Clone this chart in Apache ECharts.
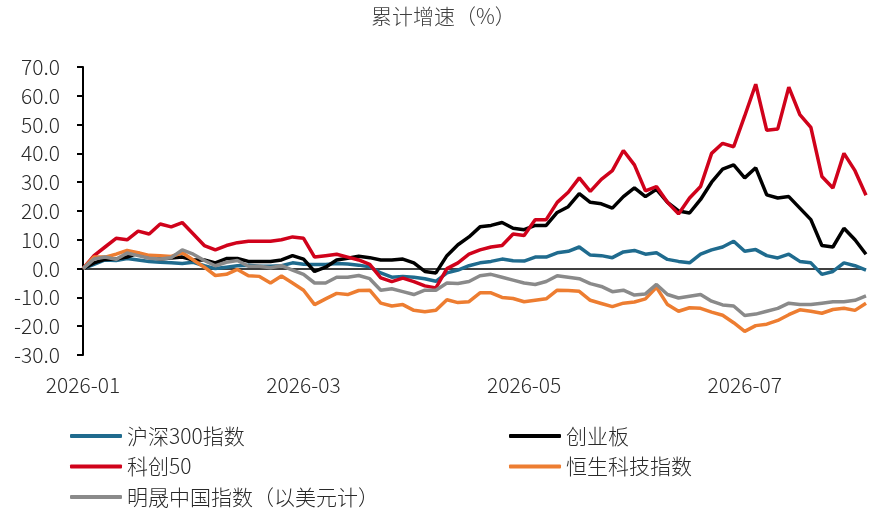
<!DOCTYPE html>
<html>
<head>
<meta charset="utf-8">
<script src="https://cdn.jsdelivr.net/npm/echarts@6/dist/echarts.min.js"></script>
<style>
html,body{margin:0;padding:0;background:#fff;}
#chart{width:881px;height:510px;}
</style>
</head>
<body>
<div id="chart"></div>
<script>
var dates = [
'2026-01-02','2026-01-05','2026-01-08','2026-01-11','2026-01-14','2026-01-17','2026-01-20','2026-01-23','2026-01-26','2026-01-29',
'2026-02-01','2026-02-04','2026-02-07','2026-02-10','2026-02-13','2026-02-16','2026-02-19','2026-02-22','2026-02-25','2026-02-27',
'2026-03-02','2026-03-05','2026-03-08','2026-03-11','2026-03-14','2026-03-17','2026-03-20','2026-03-23','2026-03-26','2026-03-29',
'2026-04-01','2026-04-04','2026-04-07','2026-04-10','2026-04-13','2026-04-16','2026-04-19','2026-04-22','2026-04-25','2026-04-28',
'2026-05-01','2026-05-04','2026-05-07','2026-05-10','2026-05-13','2026-05-16','2026-05-19','2026-05-22','2026-05-25','2026-05-28',
'2026-06-01','2026-06-04','2026-06-07','2026-06-10','2026-06-13','2026-06-16','2026-06-19','2026-06-22','2026-06-25','2026-06-28',
'2026-07-01','2026-07-04','2026-07-07','2026-07-10','2026-07-13','2026-07-16','2026-07-19','2026-07-22','2026-07-25','2026-07-28',
'2026-07-31','2026-08-03'
];
var tickMonths = ['2026-01','2026-03','2026-05','2026-07'];
var yTicks = [-30, -20, -10, 0, 10, 20, 30, 40, 50, 60, 70];

var hs300 = [0,1.5,3,2.8,3.5,3,2.5,2.2,2,1.8,
 2.2,1,0,0.5,1,1.2,0.8,0.8,1,2,
 1.5,1.4,1.4,1.8,1.6,1.2,0.6,-1.5,-3,-2.7,
 -3,-3.5,-4.4,-1.5,-0.5,1,2,2.5,3.3,2.7,
 2.6,4,4,5.5,6,7.5,4.7,4.5,3.8,5.8,
 6.3,5,5.5,3.2,2.5,2,5,6.5,7.5,9.5,
 6,6.6,4.5,3.7,5,2.5,2,-2,-1,2,
 1,-0.5];
var cyb = [0,2,3.2,3.3,4,5.4,4,3.3,3.7,4,
 3,3,2,3.5,3.5,2.5,2.5,2.5,3,4.5,
 3.3,-1,0.5,3,3.6,4.3,3.8,3,3,3.3,
 2,-1,-1.5,4.5,8.3,11,14.5,15,16,14,
 13.5,15,15,19.5,21.5,26,23,22.5,21,25,
 28,25,27.5,23,20,19.3,24,30,34.5,36,
 31.5,35,25.6,24.5,25,21,17,8,7.5,14,
 10,5];
var kc50 = [0,4.5,7.5,10.5,10,13,12,15.5,14.5,16,
 12,8,6.5,8,9,9.5,9.5,9.5,10,11,
 10.5,4,4.5,5,4,3,1.5,-3.2,-4.5,-3.3,
 -4.5,-6,-6.7,0,2,5,6.5,7.5,8,12,
 11.5,17,17,23,26.5,31.5,26.8,31,34,41,
 36,27,28.5,23,19,24.5,28.5,40,43.5,42.3,
 53,64,48,48.5,63,53.5,49,32,28,40,
 34,25.5];
var hstech = [0,4,4,5,6.3,5.5,4.6,4.5,4.2,5.5,
 3,0.5,-2.4,-2,-0.3,-2.5,-2.7,-5,-2.6,-5,
 -7.5,-12.5,-10.5,-8.6,-9,-7.6,-7.5,-12,-13,-12.5,
 -14.5,-15,-14.5,-10.8,-11.8,-11.5,-8.4,-8.4,-10,-10.4,
 -11.5,-11,-10.5,-7.5,-7.6,-7.9,-11,-12.1,-13.2,-12,
 -11.6,-10.5,-6.5,-12.5,-14.8,-13.6,-13.8,-15.1,-16.2,-18.8,
 -21.8,-19.8,-19.3,-18,-16,-14.3,-14.8,-15.5,-14.2,-13.8,
 -14.5,-12];
var msci = [0,3.3,4,3.2,5.4,4.5,3.6,3.3,3.8,6.5,
 5,2.8,1,2.2,2.8,0.8,0.8,0.3,1,-0.5,
 -2,-5,-5,-3,-3,-2.4,-3.5,-7.5,-7,-8,
 -9,-7.5,-7.5,-5,-5.2,-4.5,-2.5,-2,-3,-4,
 -5,-5.5,-4.5,-2.5,-3,-3.5,-5.2,-6.2,-8,-7.5,
 -9.2,-8.8,-5.5,-9,-10.2,-9.6,-9,-11.3,-12.6,-13,
 -16.3,-15.8,-14.8,-13.8,-12,-12.5,-12.5,-12,-11.5,-11.5,
 -11,-9.5];

var names = ['沪深300指数','创业板','科创50','恒生科技指数','明晟中国指数（以美元计）'];
var colors = ['#1F6B8E','#000000','#D0021B','#ED7D31','#8A8A8A'];
var seriesData = [hs300, cyb, kc50, hstech, msci];

var FONT = '"Noto Sans CJK SC","Noto Sans",sans-serif';
var TXT = '#2a2a2a';
var chart = echarts.init(document.getElementById('chart'), null, {renderer:'canvas'});

var series = seriesData.map(function(d, i){
  var s = {
    name: names[i], type: 'line', data: d,
    symbol: 'none', showSymbol: false, smooth: false,
    lineStyle: {color: colors[i], width: 3.5},
    itemStyle: {color: colors[i]},
    emphasis: {disabled: true},
    z: 3 + i
  };
  if (i === 0) {
    s.markLine = {
      silent: true, symbol: ['none','none'], label: {show:false},
      lineStyle: {color:'#000', width:1.5, type:'solid'},
      data: [{yAxis: 0}], z: 2
    };
  }
  return s;
});

var legendPos = [[70,424],[509,424],[70,454.5],[509,454.5],[70,485]];
var legends = names.map(function(n, i){
  return {
    data: [n], left: legendPos[i][0], top: legendPos[i][1], padding: 0,
    icon: 'roundRect', itemWidth: 52, itemHeight: 4,
    textStyle: {fontSize: 21, color: TXT, fontFamily: FONT, fontWeight: 300, lineHeight: 24},
    selectedMode: false
  };
});

chart.setOption({
  animation: false,
  backgroundColor: '#fff',
  title: {
    text: '累计增速（%）', left: 366, top: 1,
    textStyle: {fontSize: 21, fontWeight: 300, color: '#404040', fontFamily: FONT}
  },
  legend: legends,
  grid: {left: 83, right: 15, top: 67, bottom: 155, containLabel: false},
  xAxis: {
    type: 'category', data: dates, boundaryGap: false,
    axisLine: {show: false}, axisTick: {show: false}, splitLine: {show: false},
    axisLabel: {
      fontSize: 21, color: TXT, fontFamily: FONT, fontWeight: 300, margin: 20,
      hideOverlap: false,
      interval: function(idx, val){
        var m = val.slice(0,7);
        var prev = idx > 0 ? dates[idx-1].slice(0,7) : null;
        return m !== prev && tickMonths.indexOf(m) >= 0;
      },
      formatter: function(v){ return v.slice(0,7); }
    }
  },
  yAxis: {
    type: 'value', min: yTicks[0], max: yTicks[yTicks.length-1], interval: 10,
    axisLine: {show: true, lineStyle: {color: '#000', width: 2}},
    axisTick: {show: true, inside: false, length: 6, lineStyle: {color:'#000', width: 2}},
    splitLine: {show: false},
    axisLabel: {
      fontSize: 21, color: TXT, fontFamily: FONT, fontWeight: 300, margin: 23,
      formatter: function(v){ return v.toFixed(1); }
    }
  },
  series: series
});
</script>
</body>
</html>
